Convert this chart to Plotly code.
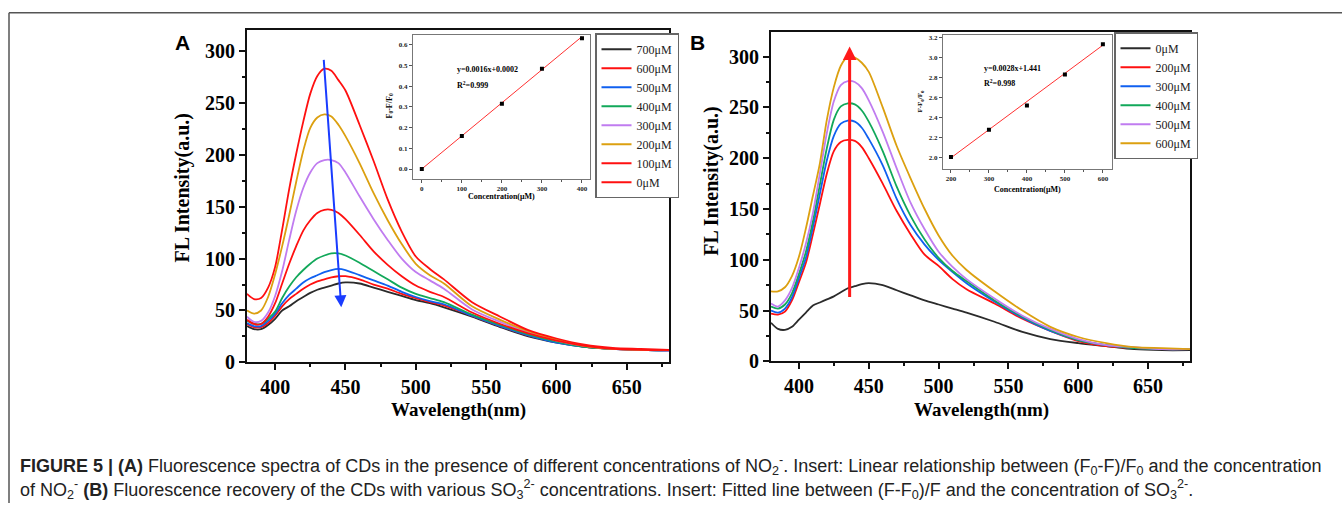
import plotly.graph_objects as go

W, H = 1342, 514

# ---------------- data ----------------
wl = [380, 385, 390, 395, 400, 405, 410, 415, 420, 425, 430, 435, 440, 445, 450,
      460, 470, 480, 490, 500, 510, 520, 540, 560, 580, 600, 620, 640, 660, 680]

# Panel A (NO2- quenching)
a_names = ["700μM", "600μM", "500μM", "400μM", "300μM", "200μM", "100μM", "0μM"]
a_colors = ["#2b2b2b", "#ff1010", "#1060f0", "#12a85a", "#c07cf0", "#dca010", "#ff1010", "#ff1010"]
a_700 = [35, 32, 32, 36, 42, 50, 54, 59, 63, 67, 70, 72, 74, 76, 77, 76, 72, 68, 64, 60, 57, 53, 44, 34, 25, 19, 15, 13, 12, 11]
a_600 = [37, 34, 34, 38, 45, 54, 61, 66, 71, 75, 78, 80, 82, 83, 83, 80, 75, 71, 66, 62, 58, 55, 45, 35, 26, 20, 15, 13, 12, 12]
a_500 = [38, 35, 35, 40, 47, 57, 65, 71, 77, 81, 84, 87, 89, 90, 89, 84, 79, 74, 68, 63, 59, 56, 45, 35, 26, 19, 15, 13, 12, 11]
a_400 = [40, 37, 37, 42, 49, 62, 73, 82, 89, 95, 100, 103, 105, 105, 103, 96, 88, 80, 72, 66, 62, 58, 46, 36, 27, 20, 15, 13, 12, 11]
a_300 = [44, 39, 40, 48, 64, 88, 118, 146, 168, 183, 192, 195, 195, 192, 183, 160, 138, 118, 100, 87, 79, 71, 51, 39, 29, 21, 16, 13, 12, 11]
a_200 = [50, 47, 50, 63, 85, 112, 142, 174, 204, 226, 236, 239, 237, 229, 218, 192, 163, 137, 114, 95, 84, 76, 54, 41, 30, 22, 16, 13, 12, 12]
a_100 = [41, 37, 37, 44, 57, 76, 95, 112, 127, 137, 144, 147, 147, 144, 138, 123, 107, 94, 83, 74, 68, 63, 48, 37, 28, 21, 16, 13, 12, 12]
a_0 = [66, 61, 62, 72, 92, 128, 167, 201, 232, 259, 276, 283, 281, 272, 262, 229, 194, 157, 126, 102, 90, 80, 58, 44, 31, 23, 17, 14, 13, 12]
a_series = [a_700, a_600, a_500, a_400, a_300, a_200, a_100, a_0]

# Panel B (SO3 2- recovery)
b_names = ["0μM", "200μM", "300μM", "400μM", "500μM", "600μM"]
b_colors = ["#2b2b2b", "#ff1010", "#1060f0", "#12a85a", "#c07cf0", "#dca010"]
b_0 = [38, 32, 31, 34, 41, 48, 55, 58, 61, 64, 68, 72, 74, 76, 77, 75, 70, 65, 60, 56, 52, 48, 39, 29, 22, 18, 15, 12, 11, 11]
b_200 = [47, 46, 49, 60, 78, 97, 125, 155, 185, 207, 216, 218, 217, 211, 200, 175, 148, 125, 105, 94, 81, 71, 57, 42, 30, 20, 15, 13, 12, 12]
b_300 = [50, 48, 52, 63, 82, 102, 132, 165, 198, 222, 234, 237, 236, 230, 219, 193, 160, 134, 115, 100, 88, 77, 59, 43, 30, 21, 16, 13, 12, 12]
b_400 = [54, 52, 56, 67, 86, 108, 138, 174, 210, 238, 251, 254, 253, 247, 236, 207, 172, 143, 120, 102, 89, 79, 60, 44, 31, 21, 16, 13, 12, 12]
b_500 = [57, 54, 60, 72, 92, 116, 146, 185, 225, 256, 272, 276, 275, 269, 257, 226, 190, 156, 130, 108, 93, 81, 62, 45, 32, 22, 16, 14, 12, 12]
b_600 = [69, 69, 73, 84, 103, 131, 163, 195, 238, 270, 291, 300, 299, 294, 285, 250, 212, 180, 150, 124, 104, 90, 69, 50, 34, 24, 18, 14, 13, 12]
b_series = [b_0, b_200, b_300, b_400, b_500, b_600]

# Insets
ia_conc = [0, 100, 200, 300, 400]
ia_val = [0.0, 0.16, 0.315, 0.485, 0.632]
ia_fit_x = [0, 400]
ia_fit_y = [0.0002, 0.6402]

ib_conc = [200, 300, 400, 500, 600]
ib_val = [2.01, 2.28, 2.52, 2.83, 3.13]
ib_fit_x = [200, 600]
ib_fit_y = [2.001, 3.121]

main_xticks = [400, 450, 500, 550, 600, 650]
main_yticks = [0, 50, 100, 150, 200, 250, 300]
ia_xticks = [0, 100, 200, 300, 400]
ia_yticks = [0.0, 0.1, 0.2, 0.3, 0.4, 0.5, 0.6]
ib_xticks = [200, 300, 400, 500, 600]
ib_yticks = [2.0, 2.2, 2.4, 2.6, 2.8, 3.0, 3.2]


def fx(p):
    return p / W


def fy(p):
    return 1 - p / H


SERIF = "Liberation Serif, Times New Roman, serif"

fig = go.Figure()

for name, col, ys in zip(a_names, a_colors, a_series):
    fig.add_trace(go.Scatter(x=wl, y=ys, name=name, mode="lines",
                             line=dict(color=col, width=1.8, shape="spline", smoothing=0.8),
                             xaxis="x", yaxis="y", legend="legend"))

fig.add_trace(go.Scatter(x=ia_fit_x, y=ia_fit_y, mode="lines", line=dict(color="#ff3030", width=1),
                         xaxis="x2", yaxis="y2", showlegend=False))
fig.add_trace(go.Scatter(x=ia_conc, y=ia_val, mode="markers",
                         marker=dict(symbol="square", size=4, color="black"),
                         xaxis="x2", yaxis="y2", showlegend=False))

for name, col, ys in zip(b_names, b_colors, b_series):
    fig.add_trace(go.Scatter(x=wl, y=ys, name=name, mode="lines",
                             line=dict(color=col, width=1.8, shape="spline", smoothing=0.8),
                             xaxis="x3", yaxis="y3", legend="legend2"))

fig.add_trace(go.Scatter(x=ib_fit_x, y=ib_fit_y, mode="lines", line=dict(color="#ff3030", width=1),
                         xaxis="x4", yaxis="y4", showlegend=False))
fig.add_trace(go.Scatter(x=ib_conc, y=ib_val, mode="markers",
                         marker=dict(symbol="square", size=4, color="black"),
                         xaxis="x4", yaxis="y4", showlegend=False))

main_tick = dict(family=SERIF, size=20, color="black", weight="bold")
main_ax = dict(showline=True, linecolor="#111", linewidth=2, mirror=True,
               ticks="outside", ticklen=6, tickwidth=1.5, tickcolor="#111",
               showgrid=False, zeroline=False, tickfont=main_tick)
in_tick = dict(family=SERIF, size=7, color="#222", weight="bold")
in_ax = dict(showline=True, linecolor="#777", linewidth=1, mirror=True,
             ticks="outside", ticklen=3, tickwidth=1, tickcolor="#555",
             showgrid=False, zeroline=False, tickfont=in_tick)

fig.update_layout(
    width=W, height=H,
    margin=dict(l=0, r=0, t=0, b=0),
    paper_bgcolor="white", plot_bgcolor="white",
    xaxis=dict(domain=[fx(247), fx(669)], range=[380, 680], anchor="y",
               tickvals=main_xticks,
               minor=dict(dtick=25, ticks="outside", ticklen=3, tickcolor="#111"), **main_ax),
    yaxis=dict(domain=[fy(370), fy(30)], range=[0, 320], anchor="x",
               tickvals=main_yticks,
               minor=dict(dtick=25, ticks="outside", ticklen=3, tickcolor="#111"), **main_ax),
    xaxis2=dict(domain=[fx(413), fx(590)], range=[-22, 420], anchor="y2",
                tickvals=ia_xticks, minor=dict(dtick=50, ticks="outside", ticklen=2), **in_ax),
    yaxis2=dict(domain=[fy(182), fy(35)], range=[-0.047, 0.647], anchor="x2",
                tickvals=ia_yticks, tickformat=".1f", **in_ax),
    xaxis3=dict(domain=[fx(771), fx(1190)], range=[380, 680], anchor="y3",
                tickvals=main_xticks,
                minor=dict(dtick=25, ticks="outside", ticklen=3, tickcolor="#111"), **main_ax),
    yaxis3=dict(domain=[fy(369), fy(32)], range=[0, 324], anchor="x3",
                tickvals=main_yticks,
                minor=dict(dtick=25, ticks="outside", ticklen=3, tickcolor="#111"), **main_ax),
    xaxis4=dict(domain=[fx(943), fx(1112)], range=[179, 624], anchor="y4",
                tickvals=ib_xticks, minor=dict(dtick=50, ticks="outside", ticklen=2), **in_ax),
    yaxis4=dict(domain=[fy(172), fy(35)], range=[1.89, 3.22], anchor="x4",
                tickvals=ib_yticks, tickformat=".1f", **in_ax),
    legend=dict(x=fx(595), y=fy(33), xanchor="left", yanchor="top",
                bordercolor="#666", borderwidth=1.5, bgcolor="white",
                font=dict(family=SERIF, size=12, color="#222"),
                itemwidth=30, tracegroupgap=0),
    legend2=dict(x=fx(1114), y=fy(32), xanchor="left", yanchor="top",
                 bordercolor="#666", borderwidth=1.5, bgcolor="white",
                 font=dict(family=SERIF, size=12, color="#222"),
                 itemwidth=30, tracegroupgap=0),
    showlegend=True,
)

ann = []


def ptext(text, x, y, size, angle=0, family=SERIF, weight="bold", color="black", xanchor="center"):
    ann.append(dict(text=text, x=fx(x), y=fy(y), xref="paper", yref="paper",
                    showarrow=False, textangle=angle, xanchor=xanchor, yanchor="middle",
                    font=dict(family=family, size=size, color=color, weight=weight)))


# axis titles
ptext("FL Intensity(a.u.)", 183, 192, 20, angle=-90)
ptext("FL Intensity(a.u.)", 712, 185, 20, angle=-90)
ptext("Wavelength(nm)", 458, 419, 19)
ptext("Wavelength(nm)", 981, 419, 19)
# panel labels
ptext("A", 182, 42, 21, family="Liberation Sans, Arial, sans-serif")
ptext("B", 697, 42, 21, family="Liberation Sans, Arial, sans-serif")
# inset titles
ptext("Concentration(μM)", 502, 200, 8)
ptext("F<sub>0</sub>-F/F<sub>0</sub>", 390, 108, 8, angle=-90)
ptext("Concentration(μM)", 1027, 193, 8)
ptext("F-F<sub>0</sub>/F<sub>0</sub>", 920, 103, 7, angle=-90)
# inset equations
ptext("y=0.0016x+0.0002", 455, 70, 8, xanchor="left")
ptext("R<sup>2</sup>=0.999", 455, 86, 8, xanchor="left")
ptext("y=0.0028x+1.441", 982, 69, 8, xanchor="left")
ptext("R<sup>2</sup>=0.998", 982, 84, 8, xanchor="left")

# arrows
ann.append(dict(x=447, y=53, ax=434.5, ay=293, xref="x", yref="y", axref="x", ayref="y",
                showarrow=True, arrowhead=2, arrowsize=1.2, arrowwidth=2, arrowcolor="#1a3cff", text=""))
ann.append(dict(x=436.3, y=310, ax=436.3, ay=62, xref="x3", yref="y3", axref="x3", ayref="y3",
                showarrow=True, arrowhead=2, arrowsize=0.9, arrowwidth=3, arrowcolor="#ff1a1a", text=""))

# caption
CAP = "Liberation Sans, Arial, sans-serif"
line1 = ("<b>FIGURE 5 | (A)</b> Fluorescence spectra of CDs in the presence of different concentrations of "
         "NO<sub>2</sub><sup>-</sup>. Insert: Linear relationship between (F<sub>0</sub>-F)/F<sub>0</sub> "
         "and the concentration")
line2 = ("of NO<sub>2</sub><sup>-</sup> <b>(B)</b> Fluorescence recovery of the CDs with various "
         "SO<sub>3</sub><sup>2-</sup> concentrations. Insert: Fitted line between (F-F<sub>0</sub>)/F and "
         "the concentration of SO<sub>3</sub><sup>2-</sup>.")
ptext(line1, 18, 476, 18, family=CAP, weight="normal", color="#222", xanchor="left")
ptext(line2, 18, 500, 18, family=CAP, weight="normal", color="#222", xanchor="left")

fig.update_layout(annotations=ann)

# figure frame
fig.add_shape(type="line", xref="paper", yref="paper", x0=fx(9), x1=1, y0=fy(12), y1=fy(12),
              line=dict(color="#555", width=1.5))
fig.add_shape(type="line", xref="paper", yref="paper", x0=fx(9), x1=fx(9), y0=fy(12), y1=0,
              line=dict(color="#555", width=1.5))

fig.write_html("out.html")
